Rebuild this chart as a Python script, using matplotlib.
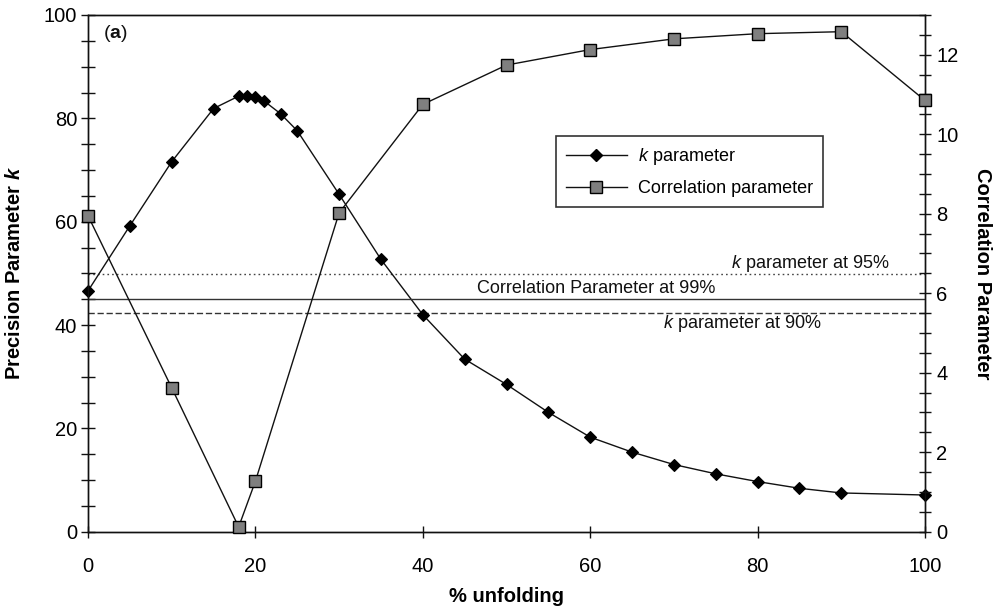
import matplotlib
matplotlib.use("Agg")
import matplotlib.pyplot as plt
from matplotlib.lines import Line2D
from matplotlib.ticker import MultipleLocator

plt.rcParams['font.family'] = ['Liberation Sans', 'DejaVu Sans']
plt.rcParams['mathtext.fontset'] = 'custom'
plt.rcParams['mathtext.rm'] = 'Liberation Sans'
plt.rcParams['mathtext.it'] = 'Liberation Sans:italic'
plt.rcParams['mathtext.bf'] = 'Liberation Sans:bold'
plt.rcParams['mathtext.bfit'] = 'Liberation Sans:bold:italic'

# Precision parameter k vs % unfolding
unfold_k = [0, 5, 10, 15, 18, 19, 20, 21, 23, 25, 30, 35, 40, 45, 50,
            55, 60, 65, 70, 75, 80, 85, 90, 100]
k_values = [46.6, 59.2, 71.6, 81.9, 84.3, 84.3, 84.1, 83.4, 80.9, 77.6, 65.3,
            52.7, 42.0, 33.4, 28.5, 23.1, 18.3, 15.4, 13.0, 11.2, 9.7, 8.4,
            7.5, 7.1]

# Correlation parameter vs % unfolding
unfold_c = [0, 10, 18, 20, 30, 40, 50, 60, 70, 80, 90, 100]
corr_values = [7.95, 3.62, 0.12, 1.27, 8.02, 10.75, 11.74, 12.13, 12.40,
               12.53, 12.58, 10.85]

# Significance thresholds
k_at_95 = 49.8
k_at_90 = 42.4
corr_at_99 = 5.86

x_ticks = [0, 20, 40, 60, 80, 100]
left_ticks = [0, 20, 40, 60, 80, 100]
right_ticks = [0, 2, 4, 6, 8, 10, 12]

fig = plt.figure(figsize=(10.05, 6.14), dpi=100)
ax = fig.add_axes([88 / 1005, 1 - 531.7 / 614, (925 - 88) / 1005, (531.7 - 15) / 614])
ax2 = ax.twinx()

lw = 1.0
ink = '#111111'

# Threshold lines
ax.axhline(k_at_95, color='#444444', lw=1.0, ls=(0, (1.2, 2.2)), zorder=1)
ax.axhline(k_at_90, color='#333333', lw=1.0, ls=(0, (4.5, 2.0)), zorder=1)
ax2.axhline(corr_at_99, color='#333333', lw=1.0, ls='-', zorder=1)

# Data series
ax.plot(unfold_k, k_values, color=ink, lw=lw, marker='D', ms=6.2,
        mfc='black', mec='black', mew=0.8, clip_on=False, zorder=3)
ax2.plot(unfold_c, corr_values, color=ink, lw=lw, marker='s', ms=8.2,
         mfc='#7f7f7f', mec='black', mew=1.0, clip_on=False, zorder=3)

ax.set_xlim(0, 100)
ax.set_ylim(0, 100)
ax2.set_ylim(0, 13)

ax.set_xticks(x_ticks)
ax.set_yticks(left_ticks)
ax.yaxis.set_minor_locator(MultipleLocator(5))
ax2.set_yticks(right_ticks)
ax2.yaxis.set_minor_locator(MultipleLocator(0.5))

for a in (ax, ax2):
    for sp in a.spines.values():
        sp.set_linewidth(1.0)
        sp.set_color(ink)

ax.tick_params(axis='x', which='major', direction='inout', length=8.5, width=1.0,
               labelsize=14.5, pad=14, color=ink, top=False)
ax.tick_params(axis='y', which='both', direction='inout', length=9.5, width=1.0,
               labelsize=14.5, pad=3, color=ink)
ax2.tick_params(axis='y', which='both', direction='inout', length=8.5, width=1.0,
                labelsize=14.5, pad=4, color=ink)

ax.set_xlabel('% unfolding', fontsize=14.5, fontweight='bold', labelpad=8)
ax.set_ylabel(r'Precision Parameter $\boldsymbol{k}$', fontsize=14.5,
              fontweight='bold', labelpad=14)
ax2.set_ylabel('Correlation Parameter', fontsize=14.5, fontweight='bold',
               rotation=270, labelpad=24)

# Threshold annotations
ax.text(95.7, 51.9, r'$k$ parameter at 95%', ha='right', va='center',
        fontsize=13, color=ink)
ax.text(46.5, 47.1, 'Correlation Parameter at 99%', ha='left', va='center',
        fontsize=13, color=ink)
ax.text(68.7, 40.3, r'$k$ parameter at 90%', ha='left', va='center',
        fontsize=13, color=ink)

# Panel tag
ax.text(1.8, 96.5, r'($\mathbf{a}$)', ha='left', va='center', fontsize=14,
        color=ink)

handles = [
    Line2D([], [], color=ink, lw=lw, marker='D', ms=6.2, mfc='black', mec='black'),
    Line2D([], [], color=ink, lw=lw, marker='s', ms=8.2, mfc='#7f7f7f', mec='black'),
]
leg = ax2.legend(handles, [r'$k$ parameter', 'Correlation parameter'],
                 loc='upper left', bbox_to_anchor=(555.7 / 1005, 1 - 136 / 614),
                 bbox_transform=fig.transFigure, fontsize=13, frameon=True,
                 fancybox=False, edgecolor='black', handlelength=3.4,
                 handletextpad=0.6, labelspacing=0.75, borderpad=0.55,
                 borderaxespad=0)
leg.get_frame().set_linewidth(1.2)

fig.savefig('out.png', dpi=100, facecolor='white')
